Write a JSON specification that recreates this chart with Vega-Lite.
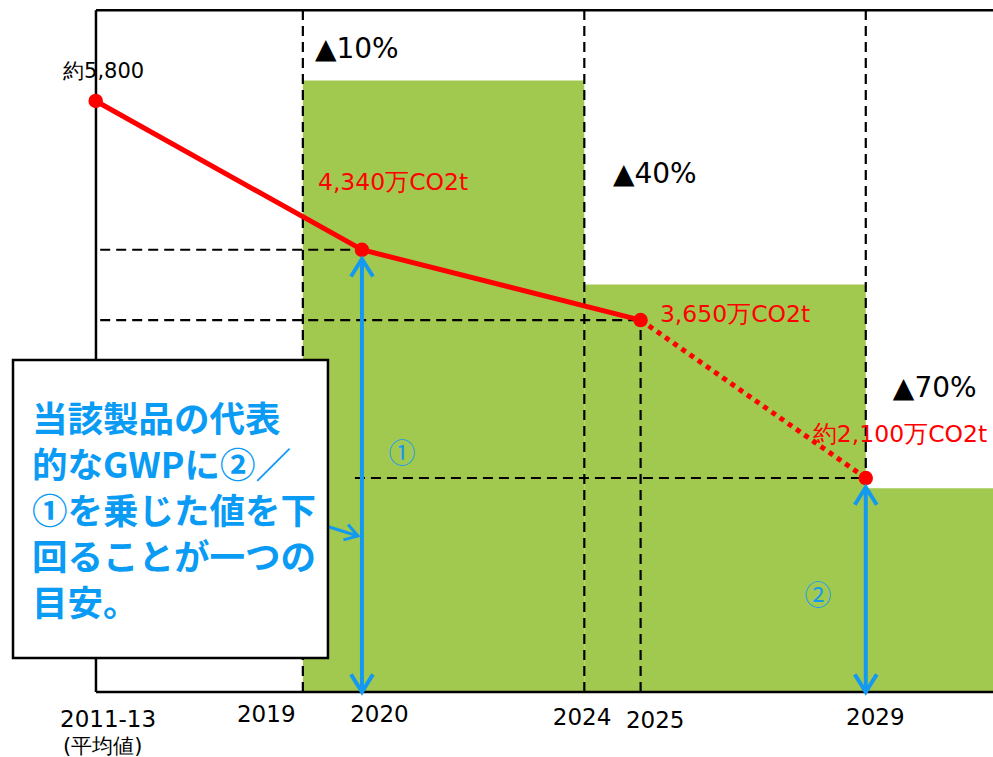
{
  "$schema": "https://vega.github.io/schema/vega-lite/v6.json",
  "width": 993,
  "height": 757,
  "autosize": "none",
  "padding": 0,
  "background": "white",
  "config": {"view": {"stroke": null}},
  "datasets": {
    "bars": [
      {"x": 2019, "x2": 2024, "y": 6000, "y2": 0},
      {"x": 2024, "x2": 2029, "y": 4000, "y2": 0},
      {"x": 2029, "x2": 2031.3, "y": 2000, "y2": 0}
    ],
    "dashed": [
      {"x": 2015.4, "x2": 2020.05, "y": 4340, "y2": 4340},
      {"x": 2015.4, "x2": 2025, "y": 3650, "y2": 3650},
      {"x": 2019.925, "x2": 2029, "y": 2100, "y2": 2100},
      {"x": 2019, "x2": 2019, "y": 0, "y2": 6690},
      {"x": 2024, "x2": 2024, "y": 0, "y2": 6690},
      {"x": 2029, "x2": 2029, "y": 0, "y2": 6690},
      {"x": 2020.05, "x2": 2020.05, "y": 0, "y2": 4340},
      {"x": 2025, "x2": 2025, "y": 0, "y2": 3650}
    ],
    "frame": [
      {"x": 2015.325, "x2": 2015.325, "y": 0, "y2": 6690},
      {"x": 2015.325, "x2": 2031.3, "y": 6690, "y2": 6690},
      {"x": 2015.325, "x2": 2031.3, "y": 0, "y2": 0}
    ],
    "line": [
      {"x": 2015.32, "y": 5800, "s": "solid"},
      {"x": 2020.05, "y": 4340, "s": "solid"},
      {"x": 2025, "y": 3650, "s": "solid"},
      {"x": 2025, "y": 3650, "s": "dotted"},
      {"x": 2029, "y": 2100, "s": "dotted"}
    ],
    "points": [
      {"x": 2015.32, "y": 5800},
      {"x": 2020.05, "y": 4340},
      {"x": 2025, "y": 3650},
      {"x": 2029, "y": 2100}
    ],
    "arrows": [
      {"x": 2020.05, "x2": 2020.05, "y": 0, "y2": 4250},
      {"x": 2029, "x2": 2029, "y": 0, "y2": 2010}
    ],
    "heads": [
      {"x": 2020.05, "y": 4250, "dir": "up"},
      {"x": 2020.05, "y": 0, "dir": "down"},
      {"x": 2029, "y": 2010, "dir": "up"},
      {"x": 2029, "y": 0, "dir": "down"}
    ],
    "pointer": [
      {"x": 2019.41, "x2": 2019.979, "y": 1629, "y2": 1531}
    ],
    "box": [
      {"x": 2013.851, "x2": 2019.446, "y": 3258, "y2": 334}
    ],
    "boxtext": [
      {"x": 2014.19, "y": 2551, "text": "当該製品の代表\n的なGWPに②／\n①を乗じた値を下\n回ることが一つの\n目安。"}
    ],
    "ticks": [
      {"x": 2014.686, "y": -343, "text": "2011-13"},
      {"x": 2017.83, "y": -294, "text": "2019"},
      {"x": 2019.84, "y": -294, "text": "2020"},
      {"x": 2023.44, "y": -324, "text": "2024"},
      {"x": 2024.74, "y": -353, "text": "2025"},
      {"x": 2028.65, "y": -324, "text": "2029"}
    ],
    "sub": [
      {"x": 2014.74, "y": -599, "text": "(平均値)"}
    ],
    "pct": [
      {"x": 2019.215, "y": 6222, "text": "▲10%"},
      {"x": 2024.508, "y": 4995, "text": "▲40%"},
      {"x": 2029.481, "y": 2895, "text": "▲70%"}
    ],
    "vals": [
      {"x": 2019.268, "y": 4926, "text": "4,340万CO2t"},
      {"x": 2025.343, "y": 3631, "text": "3,650万CO2t"},
      {"x": 2028.06, "y": 2453, "text": "約2,100万CO2t"}
    ],
    "base": [
      {"x": 2014.74, "y": 6026, "text": "約5,800"}
    ],
    "circ": [
      {"x": 2020.76, "y": 2326, "text": "①"},
      {"x": 2028.15, "y": 932, "text": "②"}
    ]
  },
  "encoding": {
    "x": {"field": "x", "type": "quantitative", "axis": null, "scale": {"domain": [2013.62, 2031.26], "nice": false, "zero": false}},
    "y": {"field": "y", "type": "quantitative", "axis": null, "scale": {"domain": [-638, 6791], "nice": false, "zero": false}}
  },
  "layer": [
    {
      "data": {"name": "bars"},
      "mark": {"type": "rect", "color": "#A2C94F"},
      "encoding": {"x2": {"field": "x2"}, "y2": {"field": "y2"}}
    },
    {
      "data": {"name": "dashed"},
      "mark": {"type": "rule", "color": "black", "strokeWidth": 2.2, "strokeDash": [10, 6]},
      "encoding": {"x2": {"field": "x2"}, "y2": {"field": "y2"}}
    },
    {
      "data": {"name": "frame"},
      "mark": {"type": "rule", "color": "black", "strokeWidth": 2.5},
      "encoding": {"x2": {"field": "x2"}, "y2": {"field": "y2"}}
    },
    {
      "data": {"name": "line"},
      "transform": [{"filter": "datum.s == 'solid'"}],
      "mark": {"type": "line", "color": "#FF0000", "strokeWidth": 5},
      "encoding": {}
    },
    {
      "data": {"name": "line"},
      "transform": [{"filter": "datum.s == 'dotted'"}],
      "mark": {"type": "line", "color": "#FF0000", "strokeWidth": 5, "strokeDash": [5, 5]},
      "encoding": {}
    },
    {
      "data": {"name": "points"},
      "mark": {"type": "point", "filled": true, "color": "#FF0000", "size": 210, "opacity": 1},
      "encoding": {}
    },
    {
      "data": {"name": "arrows"},
      "mark": {"type": "rule", "color": "#1499F0", "strokeWidth": 4},
      "encoding": {"x2": {"field": "x2"}, "y2": {"field": "y2"}}
    },
    {
      "data": {"name": "heads"},
      "transform": [{"filter": "datum.dir == 'up'"}],
      "mark": {"type": "point", "filled": false, "stroke": "#1499F0", "strokeWidth": 4, "size": 484, "opacity": 1, "shape": "M-1,1.6L0,0L1,1.6"},
      "encoding": {}
    },
    {
      "data": {"name": "heads"},
      "transform": [{"filter": "datum.dir == 'down'"}],
      "mark": {"type": "point", "filled": false, "stroke": "#1499F0", "strokeWidth": 4, "size": 484, "opacity": 1, "shape": "M-1,-1.6L0,0L1,-1.6"},
      "encoding": {}
    },
    {
      "data": {"name": "pointer"},
      "mark": {"type": "rule", "color": "#1499F0", "strokeWidth": 3},
      "encoding": {"x2": {"field": "x2"}, "y2": {"field": "y2"}}
    },
    {
      "data": {"name": "pointer"},
      "mark": {"type": "point", "filled": false, "stroke": "#1499F0", "strokeWidth": 3, "size": 256, "opacity": 1, "angle": 17, "shape": "M-1.6,-1L0,0L-1.6,1"},
      "encoding": {"x": {"field": "x2", "type": "quantitative"}, "y": {"field": "y2", "type": "quantitative"}}
    },
    {
      "data": {"name": "box"},
      "mark": {"type": "rect", "fill": "white", "stroke": "black", "strokeWidth": 2.5},
      "encoding": {"x2": {"field": "x2"}, "y2": {"field": "y2"}}
    },
    {
      "data": {"name": "boxtext"},
      "mark": {"type": "text", "align": "left", "baseline": "alphabetic", "font": "Noto Sans CJK JP", "fontWeight": "bold", "fontSize": 35.5, "lineHeight": 46, "lineBreak": "\n", "color": "#0A9BF5"},
      "encoding": {"text": {"field": "text"}}
    },
    {
      "data": {"name": "ticks"},
      "mark": {"type": "text", "align": "left", "baseline": "alphabetic", "font": "DejaVu Sans", "fontSize": 23, "color": "black"},
      "encoding": {"text": {"field": "text"}}
    },
    {
      "data": {"name": "sub"},
      "mark": {"type": "text", "align": "left", "baseline": "alphabetic", "font": "DejaVu Sans", "fontSize": 21, "color": "black"},
      "encoding": {"text": {"field": "text"}}
    },
    {
      "data": {"name": "pct"},
      "mark": {"type": "text", "align": "left", "baseline": "alphabetic", "font": "DejaVu Sans", "fontSize": 28, "color": "black"},
      "encoding": {"text": {"field": "text"}}
    },
    {
      "data": {"name": "vals"},
      "mark": {"type": "text", "align": "left", "baseline": "alphabetic", "font": "DejaVu Sans", "fontSize": 23.5, "color": "#FF0000"},
      "encoding": {"text": {"field": "text"}}
    },
    {
      "data": {"name": "base"},
      "mark": {"type": "text", "align": "left", "baseline": "alphabetic", "font": "DejaVu Sans", "fontSize": 21, "color": "black"},
      "encoding": {"text": {"field": "text"}}
    },
    {
      "data": {"name": "circ"},
      "mark": {"type": "text", "align": "center", "baseline": "middle", "font": "Noto Sans CJK JP", "fontSize": 27, "color": "#1499F0"},
      "encoding": {"text": {"field": "text"}}
    }
  ]
}
